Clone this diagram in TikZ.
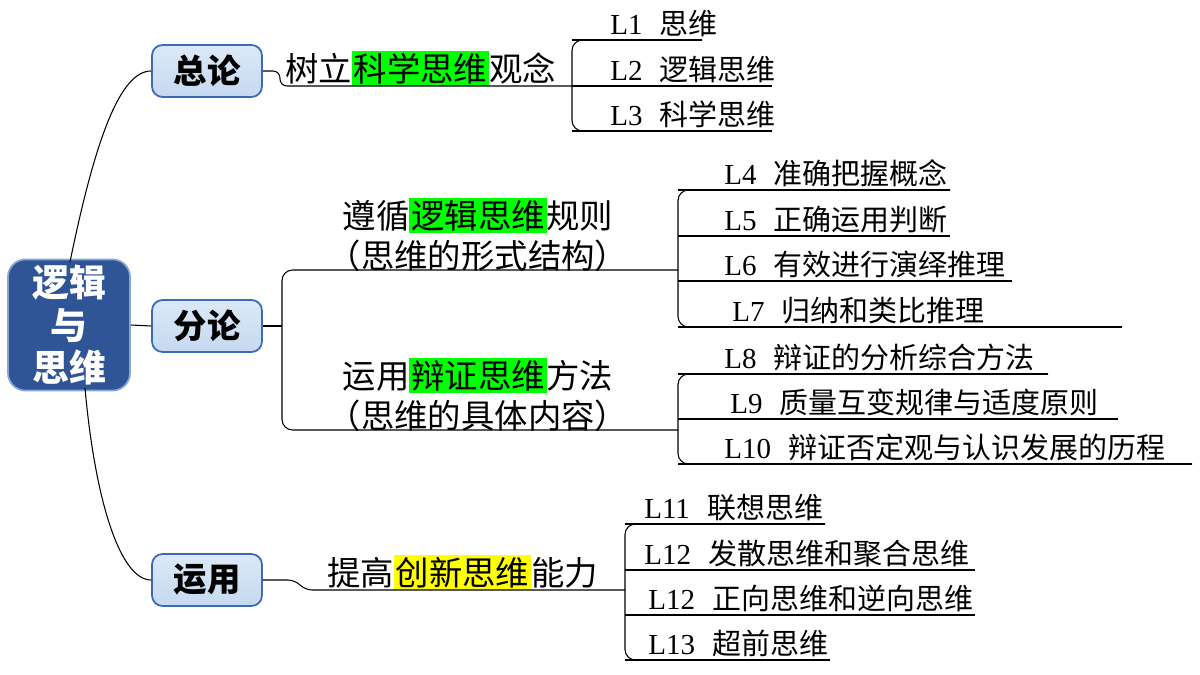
\documentclass[tikz,border=0pt]{standalone}
\usepackage{fontspec}
\setmainfont{Noto Sans CJK SC}
\newfontfamily\lat{Liberation Serif}
\definecolor{rootblue}{HTML}{2F5597}
\definecolor{boxblue}{HTML}{C5D9F1}
\definecolor{edgeblue}{HTML}{3A6BB5}
\definecolor{hlg}{HTML}{00FF00}
\definecolor{hly}{HTML}{FFFF00}
\setlength{\fboxsep}{1pt}
\newcommand{\hl}[2]{\colorbox{#1}{#2}}
% leaf: name, left x, line y, right x, text x, label, text
\NewDocumentCommand{\leaf}{m m m m m m m}{
    \coordinate (#1-l) at (#2,#3);
    \coordinate (#1-r) at (#4,#3);
    \node[anchor=south west, inner sep=1pt, font=\fontsize{16.5}{18}\selectfont] (#1) at (#5,#3-1) {{\lat #6}\hspace{0.6em}#7};
    \draw (#1-l) -- (#1-r);
}
\begin{document}
\begin{tikzpicture}[x=0.02cm, y=-0.02cm, line width=0.6pt,
    branch/.style={draw=edgeblue, line width=1pt, rounded corners=6pt, top color=boxblue!60, bottom color=boxblue,
        minimum width=110*0.02cm, minimum height=52*0.02cm, font=\fontsize{19}{21}\bfseries\selectfont},
    topic/.style={inner sep=1pt, font=\fontsize{19}{23}\selectfont, align=center}]
    \useasboundingbox (0,0) rectangle (1200,675);

    % root and branches
    \node[fill=rootblue, draw=edgeblue!60, line width=1pt, rounded corners=10pt, text=white,
        minimum width=122*0.02cm, minimum height=126*0.02cm, align=center,
        font=\fontsize{21}{24}\bfseries\selectfont] (R) at (69,325) {逻辑\\与\\思维};
    \node[branch] (B1) at (207,71) {总论};
    \node[branch] (B2) at (207,326) {分论};
    \node[branch] (B3) at (207,580) {运用};
    \draw (70,262) .. controls (95,140) and (120,71) .. (B1.west);
    \draw (R.east) -- (B2.west);
    \draw (85,388) .. controls (95,500) and (120,580) .. (B3.west);

    % 总论
    \coordinate (T1-l) at (280,86);
    \coordinate (T1-r) at (572,86);
    \node[topic, anchor=south west] (T1) at (283,88) {树立\hl{hlg}{科学思维}观念};
    \draw[rounded corners=4pt] (B1.east) -- (280,71) -- (T1-l) -- (T1-r);
    \leaf{L1}{572}{40}{702}{608}{L1}{思维}
    \leaf{L2}{572}{86}{772}{608}{L2}{逻辑思维}
    \leaf{L3}{572}{131}{772}{608}{L3}{科学思维}
    \draw[rounded corners=6pt] (L1-r) -- (L1-l) -- (L3-l) -- (L3-r);

    % 分论
    \coordinate (T2-l) at (282,270);
    \coordinate (T2-r) at (678,270);
    \coordinate (T3-l) at (282,430);
    \coordinate (T3-r) at (678,430);
    \node[topic, anchor=south] (T2) at (478,274) {遵循\hl{hlg}{逻辑思维}规则\\（思维的形式结构）};
    \node[topic, anchor=south] (T3) at (478,434) {运用\hl{hlg}{辩证思维}方法\\（思维的具体内容）};
    \draw[rounded corners=6pt] (T2-r) -- (T2-l) -- (T3-l) -- (T3-r);
    \draw (B2.east) -- (282,326);
    \leaf{L4}{678}{190}{950}{722}{L4}{准确把握概念}
    \leaf{L5}{678}{236}{950}{722}{L5}{正确运用判断}
    \leaf{L6}{678}{281}{1012}{722}{L6}{有效进行演绎推理}
    \leaf{L7}{678}{327}{1122}{730}{L7}{归纳和类比推理}
    \draw[rounded corners=6pt] (L4-r) -- (L4-l) -- (L7-l) -- (L7-r);
    \leaf{L8}{678}{374}{1048}{722}{L8}{辩证的分析综合方法}
    \leaf{L9}{678}{419}{1118}{728}{L9}{质量互变规律与适度原则}
    \leaf{L10}{678}{464}{1192}{722}{L10}{辩证否定观与认识发展的历程}
    \draw[rounded corners=6pt] (L8-r) -- (L8-l) -- (L10-l) -- (L10-r);

    % 运用
    \coordinate (T4-l) at (305,590);
    \coordinate (T4-r) at (625,590);
    \node[topic, anchor=south west] (T4) at (325,592) {提高\hl{hly}{创新思维}能力};
    \draw[rounded corners=4pt] (B3.east) -- (295,580) -- (305,590) -- (T4-r);
    \leaf{L11}{625}{524}{825}{642}{L11}{联想思维}
    \leaf{L12}{625}{570}{975}{642}{L12}{发散思维和聚合思维}
    \leaf{L12b}{625}{615}{975}{646}{L12}{正向思维和逆向思维}
    \leaf{L13}{625}{660}{830}{646}{L13}{超前思维}
    \draw[rounded corners=6pt] (L11-r) -- (L11-l) -- (L13-l) -- (L13-r);
\end{tikzpicture}
\end{document}
